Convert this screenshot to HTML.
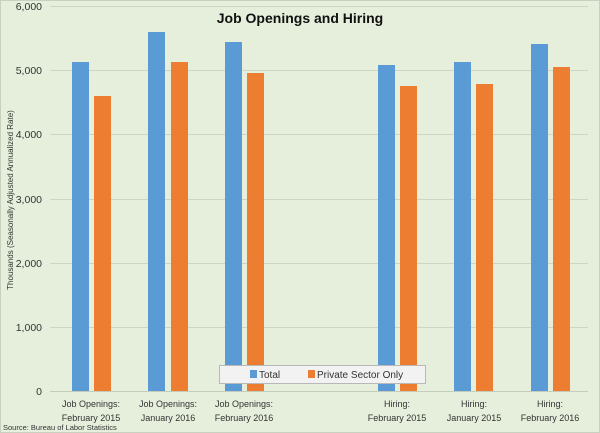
<!DOCTYPE html>
<html><head><meta charset="utf-8"><style>
body{margin:0;background:#fff}
svg{display:block;font-family:"Liberation Sans",sans-serif}
</style></head><body>
<svg width="600" height="433" viewBox="0 0 600 433">
<rect x="0.5" y="0.5" width="599" height="432" fill="#e6efdc" stroke="#c8d0c0"/>
<g stroke="#cdd6c4" stroke-width="1">
<line x1="50" x2="588" y1="6.5" y2="6.5"/>
<line x1="50" x2="588" y1="70.5" y2="70.5"/>
<line x1="50" x2="588" y1="134.5" y2="134.5"/>
<line x1="50" x2="588" y1="199.5" y2="199.5"/>
<line x1="50" x2="588" y1="263.5" y2="263.5"/>
<line x1="50" x2="588" y1="327.5" y2="327.5"/>
<line x1="50" x2="588" y1="391.5" y2="391.5" stroke="#c4ccbc"/>
</g>
<g font-size="10.5" fill="#333" text-anchor="end">
<text x="42" y="10">6,000</text>
<text x="42" y="74">5,000</text>
<text x="42" y="138">4,000</text>
<text x="42" y="203">3,000</text>
<text x="42" y="267">2,000</text>
<text x="42" y="331">1,000</text>
<text x="42" y="395">0</text>
</g>
<text transform="translate(13,200) rotate(-90)" font-size="8" fill="#333" text-anchor="middle">Thousands (Seasonally Adjusted Annualized Rate)</text>
<text x="300" y="23" font-size="14" font-weight="bold" text-anchor="middle" fill="#111">Job Openings and Hiring</text>
<g fill="#5b9bd5">
<rect x="72" y="62" width="17" height="329"/>
<rect x="148" y="32" width="17" height="359"/>
<rect x="225" y="42" width="17" height="349"/>
<rect x="378" y="65" width="17" height="326"/>
<rect x="454" y="62" width="17" height="329"/>
<rect x="531" y="44" width="17" height="347"/>
</g>
<g fill="#ed7d31">
<rect x="94" y="96" width="17" height="295"/>
<rect x="171" y="62" width="17" height="329"/>
<rect x="247" y="73" width="17" height="318"/>
<rect x="400" y="86" width="17" height="305"/>
<rect x="476" y="84" width="17" height="307"/>
<rect x="553" y="67" width="17" height="324"/>
</g>
<rect x="219.5" y="365.5" width="206" height="18" fill="#f2f2f2" stroke="#b8b8b8"/>
<rect x="250" y="370" width="7" height="8" fill="#5b9bd5"/>
<text x="259" y="378" font-size="10" fill="#333">Total</text>
<rect x="308" y="370" width="7" height="8" fill="#ed7d31"/>
<text x="317" y="378" font-size="10" fill="#333">Private Sector Only</text>
<g font-size="9" fill="#333" text-anchor="middle">
<text x="91" y="407">Job Openings:</text><text x="91" y="421">February 2015</text>
<text x="168" y="407">Job Openings:</text><text x="168" y="421">January 2016</text>
<text x="244" y="407">Job Openings:</text><text x="244" y="421">February 2016</text>
<text x="397" y="407">Hiring:</text><text x="397" y="421">February 2015</text>
<text x="474" y="407">Hiring:</text><text x="474" y="421">January 2015</text>
<text x="550" y="407">Hiring:</text><text x="550" y="421">February 2016</text>
</g>
<text x="3" y="430" font-size="7.5" fill="#333">Source: Bureau of Labor Statistics</text>
</svg>
</body></html>
